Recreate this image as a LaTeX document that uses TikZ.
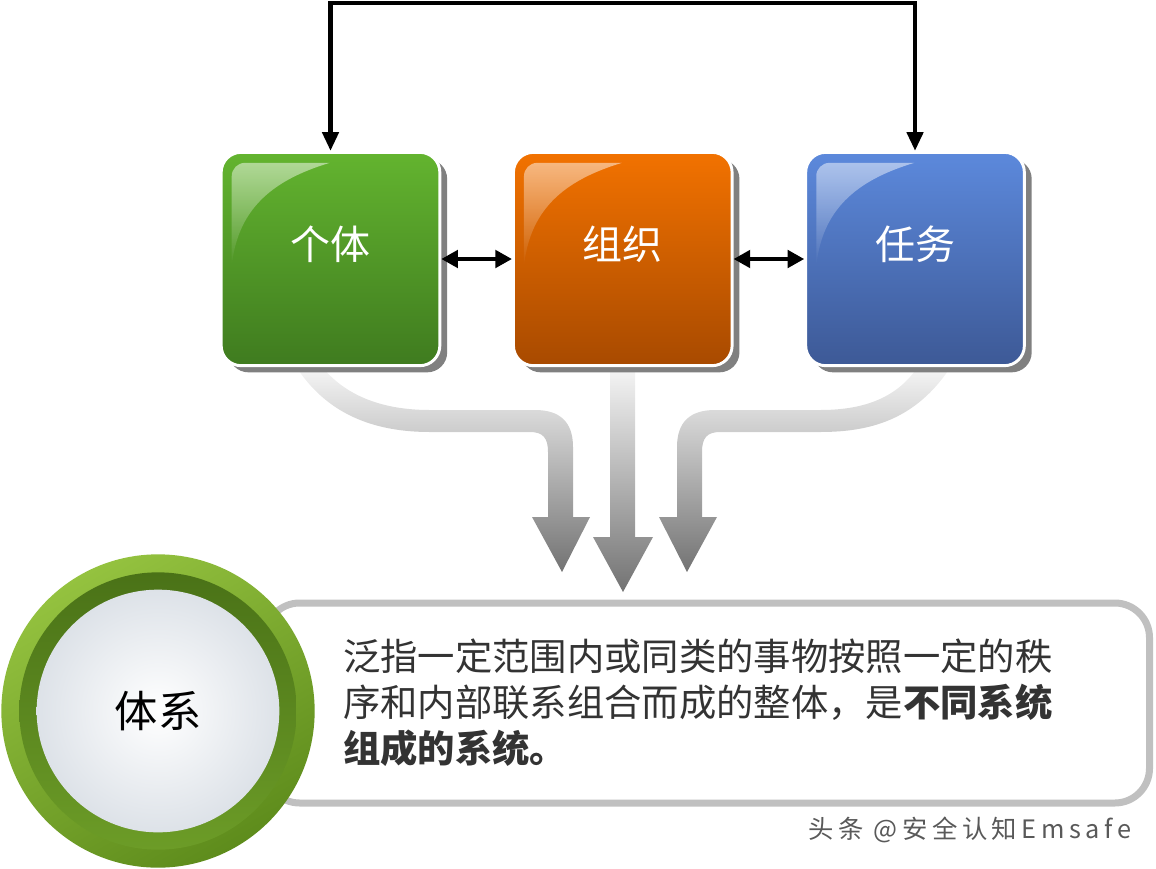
\documentclass[tikz,border=0pt]{standalone}
\usepackage{fontspec}
\newfontfamily\cjk{Noto Sans CJK SC}
\newfontfamily\markfont{Noto Sans CJK SC}[LetterSpace=18]
\usetikzlibrary{arrows.meta}
\usetikzlibrary{positioning}
\usetikzlibrary{shadows}
\usetikzlibrary{fadings}

\definecolor{getitop}{HTML}{63B42F}
\definecolor{getibot}{HTML}{3F7B1F}
\definecolor{zuzhitop}{HTML}{F27200}
\definecolor{zuzhibot}{HTML}{A84A00}
\definecolor{renwutop}{HTML}{5C89DC}
\definecolor{renwubot}{HTML}{3D5996}
\definecolor{limelight}{HTML}{94C23F}
\definecolor{limedark}{HTML}{5E8C1C}
\definecolor{ringdark}{HTML}{4A7217}
\definecolor{ringmid}{HTML}{6C9C27}
\definecolor{spheregray}{HTML}{DDE2E8}
\definecolor{framegray}{HTML}{C0C0C0}
\definecolor{textgray}{HTML}{333333}

\tikzfading[name=glossfade, top color=transparent!50, bottom color=transparent!100]

\begin{document}
\begin{tikzpicture}[x=0.75pt, y=-0.75pt,
  taskbox/.style={rounded corners=15pt, minimum width=164pt, minimum height=160pt,
    draw=white, line width=2.2pt,
    drop shadow={shadow xshift=5.5pt, shadow yshift=-5pt, fill=black!50, opacity=1}},
  tasklabel/.style={text=white, font=\cjk\fontsize{30}{32}\selectfont},
  link/.style={{Triangle[length=12.5pt, width=13pt]}-{Triangle[length=12.5pt, width=13pt]}, line width=3pt},
  flow/.style={top color=black!4, middle color=black!10, bottom color=black!55}]

\useasboundingbox (0,0) rectangle (1156,868);

% grey flows into the frame
\shade[flow] (297,368) .. controls (330,418) and (380,432) .. (430,432) -- (530,432)
  .. controls (543,432) and (548,438) .. (548,452) -- (548,517) -- (532,517) -- (562,572)
  -- (590,517) -- (573,517) -- (573,447) .. controls (573,422) and (560,410) .. (535,410)
  -- (430,410) .. controls (390,410) and (350,400) .. (323,368) -- cycle;
\shade[flow] (610,368) -- (610,537) -- (593,537) -- (623,592) -- (653,537) -- (635,537) -- (635,368) -- cycle;
\shade[flow] (950,368) .. controls (915,420) and (870,432) .. (820,432) -- (720,432)
  .. controls (707,432) and (702,438) .. (702,452) -- (702,517) -- (717,517) -- (687,572)
  -- (659,517) -- (677,517) -- (677,447) .. controls (677,422) and (690,410) .. (715,410)
  -- (820,410) .. controls (860,410) and (895,400) .. (917,368) -- cycle;

\node[taskbox, top color=getitop, bottom color=getibot] (geti) at (330.5,259) {};
\node[taskbox, top color=zuzhitop, bottom color=zuzhibot, right=53pt of geti] (zuzhi) {};
\node[taskbox, top color=renwutop, bottom color=renwubot, right=53pt of zuzhi] (renwu) {};

\foreach \boxname in {geti,zuzhi,renwu}
  \fill[white, path fading=glossfade, rounded corners=10pt]
    ([shift={(12,115)}]\boxname.north west) -- ([shift={(12,12)}]\boxname.north west)
    [sharp corners] -- ([shift={(110,12)}]\boxname.north west)
    .. controls ([shift={(50,30)}]\boxname.north west) and ([shift={(18,60)}]\boxname.north west)
    .. cycle;

\node[tasklabel] (geti-text) at ([yshift=11pt]geti.center) {个体};
\node[tasklabel] (zuzhi-text) at ([yshift=11pt]zuzhi.center) {组织};
\node[tasklabel] (renwu-text) at ([yshift=11pt]renwu.center) {任务};

\draw[link] (geti.east) -- (zuzhi.west);
\draw[link] (zuzhi.east) -- (renwu.west);

\coordinate (topline) at (0,3);
\draw[{Triangle[length=14pt, width=12pt]}-{Triangle[length=14pt, width=12pt]}, line width=3.2pt]
  (geti.north) -- (geti.north |- topline) -- (renwu.north |- topline) -- (renwu.north);

% frame and ball
\draw[draw=framegray, line width=5.25pt, fill=white, rounded corners=26pt] (265,603) rectangle (1149.5,803);

\coordinate (tixi-c) at (158,711);
\shade[top color=limelight, bottom color=limedark, shading angle=30] (tixi-c) circle[radius=117.5pt];
\shade[top color=ringdark, bottom color=ringmid] (tixi-c) circle[radius=104pt];
\shade[inner color=white, outer color=spheregray] (tixi-c) circle[radius=91pt];
\node[font=\cjk\fontsize{32.5}{34}\selectfont] (tixi) at (tixi-c) {体系};

\node[anchor=west, align=left, inner sep=0, text=textgray, font=\cjk\fontsize{28}{34.5}\selectfont] (desc) at (343,703)
  {泛指一定范围内或同类的事物按照一定的秩\\序和内部联系组合而成的整体，是\textbf{不同系统}\\\textbf{组成的系统。}};

\node[anchor=west, inner sep=0, text=black!65, font=\markfont\fontsize{19}{22}\selectfont] (mark) at (808,830) {头条 @安全认知Emsafe};
\end{tikzpicture}
\end{document}
